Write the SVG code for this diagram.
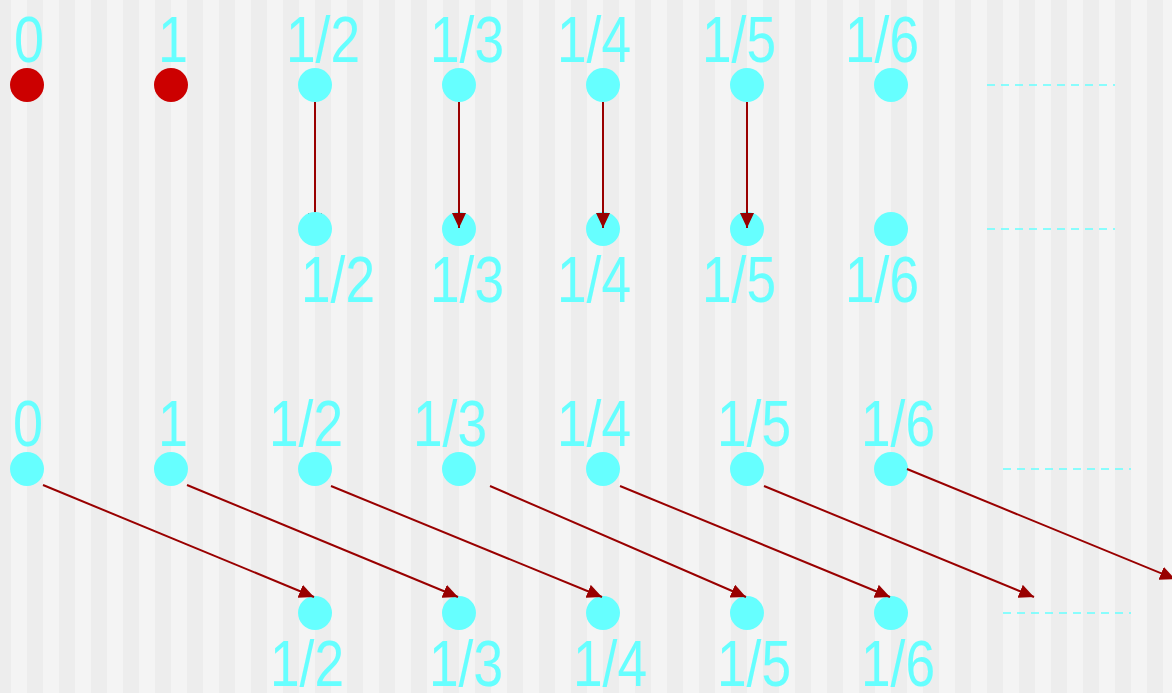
<svg xmlns="http://www.w3.org/2000/svg" width="1172" height="693" viewBox="0 0 1172 693">
<defs>
<pattern id="stripes" x="11" y="0" width="32" height="693" patternUnits="userSpaceOnUse">
<rect width="32" height="693" fill="#ededed"/>
<rect width="16" height="693" fill="#f4f4f4"/>
</pattern>
<marker id="ah" markerUnits="userSpaceOnUse" viewBox="0 0 15 14" refX="15" refY="7" markerWidth="15" markerHeight="14" orient="auto">
<path d="M0,0 L15,7 L0,14 z" fill="#990000"/>
</marker>
<style>
.lbl{font-family:"Liberation Sans",Arial,sans-serif;font-size:65px;fill:#66ffff;text-anchor:middle}
.c{fill:#66ffff}
.r{fill:#cc0000}
.arr{stroke:#990000;stroke-width:2;fill:none;marker-end:url(#ah)}
.dash{stroke:#66ffff;stroke-width:1.6;stroke-dasharray:8 6;fill:none}
</style>
</defs>
<rect width="1172" height="693" fill="url(#stripes)"/>

<g id="t0"><circle class="r" cx="27" cy="85" r="17"/><text class="lbl" x="29" y="62" textLength="30" lengthAdjust="spacingAndGlyphs">0</text></g>
<g id="t1"><circle class="r" cx="171" cy="85" r="17"/><text class="lbl" x="173" y="62" textLength="30" lengthAdjust="spacingAndGlyphs">1</text></g>
<g id="t2"><circle class="c" cx="315" cy="85" r="17"/><text class="lbl" x="323" y="62" textLength="74" lengthAdjust="spacingAndGlyphs">1/2</text></g>
<g id="t3"><circle class="c" cx="459" cy="85" r="17"/><text class="lbl" x="467" y="62" textLength="74" lengthAdjust="spacingAndGlyphs">1/3</text></g>
<g id="t4"><circle class="c" cx="603" cy="85" r="17"/><text class="lbl" x="594" y="62" textLength="74" lengthAdjust="spacingAndGlyphs">1/4</text></g>
<g id="t5"><circle class="c" cx="747" cy="85" r="17"/><text class="lbl" x="739" y="62" textLength="74" lengthAdjust="spacingAndGlyphs">1/5</text></g>
<g id="t6"><circle class="c" cx="891" cy="85" r="17"/><text class="lbl" x="882" y="62" textLength="74" lengthAdjust="spacingAndGlyphs">1/6</text></g>

<g id="m3"><circle class="c" cx="459" cy="229" r="17"/><text class="lbl" x="467" y="302" textLength="74" lengthAdjust="spacingAndGlyphs">1/3</text></g>
<g id="m4"><circle class="c" cx="603" cy="229" r="17"/><text class="lbl" x="594" y="302" textLength="74" lengthAdjust="spacingAndGlyphs">1/4</text></g>
<g id="m5"><circle class="c" cx="747" cy="229" r="17"/><text class="lbl" x="739" y="302" textLength="74" lengthAdjust="spacingAndGlyphs">1/5</text></g>
<g id="m6"><circle class="c" cx="891" cy="229" r="17"/><text class="lbl" x="882" y="302" textLength="74" lengthAdjust="spacingAndGlyphs">1/6</text></g>

<g id="s0"><circle class="c" cx="27" cy="469" r="17"/><text class="lbl" x="28" y="446" textLength="30" lengthAdjust="spacingAndGlyphs">0</text></g>
<g id="s1"><circle class="c" cx="171" cy="469" r="17"/><text class="lbl" x="173" y="446" textLength="30" lengthAdjust="spacingAndGlyphs">1</text></g>
<g id="s2"><circle class="c" cx="315" cy="469" r="17"/><text class="lbl" x="306" y="446" textLength="74" lengthAdjust="spacingAndGlyphs">1/2</text></g>
<g id="s3"><circle class="c" cx="459" cy="469" r="17"/><text class="lbl" x="450" y="446" textLength="74" lengthAdjust="spacingAndGlyphs">1/3</text></g>
<g id="s4"><circle class="c" cx="603" cy="469" r="17"/><text class="lbl" x="594" y="446" textLength="74" lengthAdjust="spacingAndGlyphs">1/4</text></g>
<g id="s5"><circle class="c" cx="747" cy="469" r="17"/><text class="lbl" x="754" y="446" textLength="74" lengthAdjust="spacingAndGlyphs">1/5</text></g>
<g id="s6"><circle class="c" cx="891" cy="469" r="17"/><text class="lbl" x="898" y="446" textLength="74" lengthAdjust="spacingAndGlyphs">1/6</text></g>

<g id="b2"><circle class="c" cx="315" cy="613" r="17"/><text class="lbl" x="307" y="686" textLength="74" lengthAdjust="spacingAndGlyphs">1/2</text></g>
<g id="b3"><circle class="c" cx="459" cy="613" r="17"/><text class="lbl" x="466" y="686" textLength="74" lengthAdjust="spacingAndGlyphs">1/3</text></g>
<g id="b4"><circle class="c" cx="603" cy="613" r="17"/><text class="lbl" x="610" y="686" textLength="74" lengthAdjust="spacingAndGlyphs">1/4</text></g>
<g id="b5"><circle class="c" cx="747" cy="613" r="17"/><text class="lbl" x="754" y="686" textLength="74" lengthAdjust="spacingAndGlyphs">1/5</text></g>
<g id="b6"><circle class="c" cx="891" cy="613" r="17"/><text class="lbl" x="898" y="686" textLength="74" lengthAdjust="spacingAndGlyphs">1/6</text></g>

<g id="connectors">
<line class="arr" x1="315" y1="102" x2="315" y2="228"/>
<line class="arr" x1="459" y1="102" x2="459" y2="228"/>
<line class="arr" x1="603" y1="102" x2="603" y2="228"/>
<line class="arr" x1="747" y1="102" x2="747" y2="228"/>
<line class="arr" x1="43" y1="485" x2="314" y2="597"/>
<line class="arr" x1="187" y1="485" x2="458" y2="597"/>
<line class="arr" x1="331" y1="486" x2="602" y2="597"/>
<line class="arr" x1="490" y1="486" x2="746" y2="597"/>
<line class="arr" x1="620" y1="486" x2="890" y2="597"/>
<line class="arr" x1="764" y1="486" x2="1034" y2="597"/>
<line class="arr" x1="907" y1="469" x2="1175" y2="579"/>
<line class="dash" x1="987" y1="85" x2="1115" y2="85"/>
<line class="dash" x1="987" y1="229" x2="1115" y2="229"/>
<line class="dash" x1="1003" y1="469" x2="1131" y2="469"/>
<line class="dash" x1="1003" y1="613" x2="1131" y2="613"/>
</g>

<g id="m2"><circle class="c" cx="315" cy="229" r="17"/><text class="lbl" x="338" y="302" textLength="74" lengthAdjust="spacingAndGlyphs">1/2</text></g>
</svg>
